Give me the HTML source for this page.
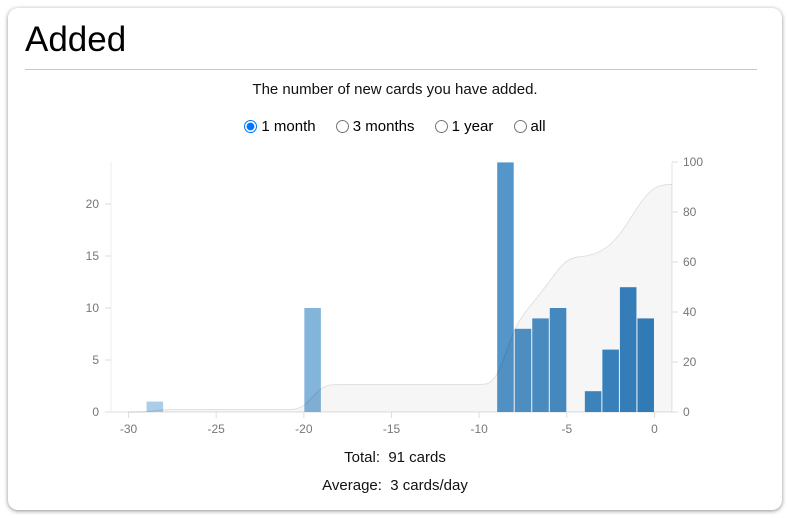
<!DOCTYPE html>
<html><head><meta charset="utf-8">
<style>
body{margin:0;background:#fff;font-family:"Liberation Sans",sans-serif;width:788px;height:518px;overflow:hidden;position:relative}
.card{position:absolute;left:8px;top:8px;width:774px;height:502px;border-radius:10px;box-shadow:0 1px 4px rgba(0,0,0,.45);background:#fff}
h1{position:absolute;left:17px;top:12px;margin:0;font-weight:normal;font-size:35px;color:#000}
.rule{position:absolute;left:17px;top:61px;width:732px;height:1px;background:#c8c8c8}
.sub{position:absolute;left:0;width:774px;text-align:center;font-size:15px;color:#111}
.radios{position:absolute;top:110px;left:0;width:774px;text-align:center;font-size:15px}
.radios label{margin:0 8px}
.radios input{margin:0 4px 0 0;vertical-align:-2px;width:13px;height:13px}
svg{position:absolute;left:0;top:0}
</style></head><body>
<div class="card">
<h1>Added</h1>
<div class="rule"></div>
<div class="sub" style="top:73px">The number of new cards you have added.</div>
<div class="radios">
<label><input type="radio" name="r" checked>1 month</label>
<label><input type="radio" name="r">3 months</label>
<label><input type="radio" name="r">1 year</label>
<label><input type="radio" name="r">all</label>
</div>
<div class="sub" style="top:441px">Total:&nbsp; 91 cards</div>
<div class="sub" style="top:469px">Average:&nbsp; 3 cards/day</div>
</div>
<svg id="chart" width="788" height="518"></svg>
<script>
const days=[-29,-20,-9,-8,-7,-6,-4,-3,-2,-1];
const counts=[1,10,24,8,9,10,2,6,12,9];
const xTicks=[-30,-25,-20,-15,-10,-5,0];
const yTicks=[0,5,10,15,20];
const y2Ticks=[0,20,40,60,80,100];

const NS="http://www.w3.org/2000/svg";
const svg=document.getElementById('chart');
const X0=-31,X1=1,px0=111,px1=672;
const x=v=>px0+(v-X0)/(X1-X0)*(px1-px0);
const yB=412;
const y=v=>yB-v*(412-204)/20;
const y2=v=>yB-v*(412-162)/100;
function mk(t,a,p){const e=document.createElementNS(NS,t);for(const k in a)e.setAttribute(k,a[k]);(p||svg).appendChild(e);return e;}
let ax=mk('line',{x1:px0,y1:162,x2:px0,y2:yB,stroke:'#eee'});

ax=mk('line',{x1:px1,y1:162,x2:px1,y2:yB,stroke:'#e4e4e4'});

ax=mk('line',{x1:px0,y1:yB,x2:px1,y2:yB,stroke:'#ddd'});

xTicks.forEach(t=>{mk('line',{x1:x(t),x2:x(t),y1:yB,y2:yB+6,stroke:'#ddd'});
 const tx=mk('text',{x:x(t),y:yB+21,'text-anchor':'middle','font-size':12,fill:'#777'});tx.textContent=t;
 });
yTicks.forEach(t=>{mk('line',{x1:px0-6,x2:px0,y1:y(t),y2:y(t),stroke:'#ddd'});
 const tx=mk('text',{x:px0-12,y:y(t)+4,'text-anchor':'end','font-size':12,fill:'#777'});tx.textContent=t;
 });
y2Ticks.forEach(t=>{mk('line',{x1:px1,x2:px1+6,y1:y2(t),y2:y2(t),stroke:'#ddd'});
 const tx=mk('text',{x:px1+11,y:y2(t)+4,'text-anchor':'start','font-size':12,fill:'#777'});tx.textContent=t;
 });
function col(d){const f=(d+29)/28;const c0=[170,206,233],c1=[50,127,189];
 return 'rgb('+c0.map((c,i)=>Math.round(c+(c1[i]-c)*f)).join(',')+')';}
days.forEach((d,i)=>{const b=mk('rect',{x:x(d)+0.5,y:y(counts[i]),width:x(d+1)-x(d)-1,height:yB-y(counts[i]),fill:col(d)});
 });
const pts=[];let cum=0;
for(let d=-30;d<=1;d++){const i=days.indexOf(d-1);if(i>=0)cum+=counts[i];pts.push([x(d),y2(cum)]);}
function basis(p){const n=p.length;
 let d='M'+p[0][0]+','+p[0][1];
 d+='L'+((5*p[0][0]+p[1][0])/6)+','+((5*p[0][1]+p[1][1])/6);
 let x0=p[0][0],y0=p[0][1],x1=p[1][0],y1=p[1][1];
 for(let i=2;i<=n;i++){const q=i<n?p[i]:p[n-1];
  d+='C'+((2*x0+x1)/3)+','+((2*y0+y1)/3)+' '+((x0+2*x1)/3)+','+((y0+2*y1)/3)+' '+((x0+4*x1+q[0])/6)+','+((y0+4*y1+q[1])/6);
  x0=x1;y0=y1;x1=q[0];y1=q[1];}
 d+='L'+p[n-1][0]+','+p[n-1][1];
 return d;}
const line=basis(pts);
const area=mk('path',{d:line+'L'+x(1)+','+yB+'L'+x(-30)+','+yB+'Z',fill:'rgba(0,0,0,0.035)',stroke:'none'});

const ln=mk('path',{d:line,fill:'none',stroke:'rgba(0,0,0,0.1)','stroke-width':1});

</script>
</body></html>
